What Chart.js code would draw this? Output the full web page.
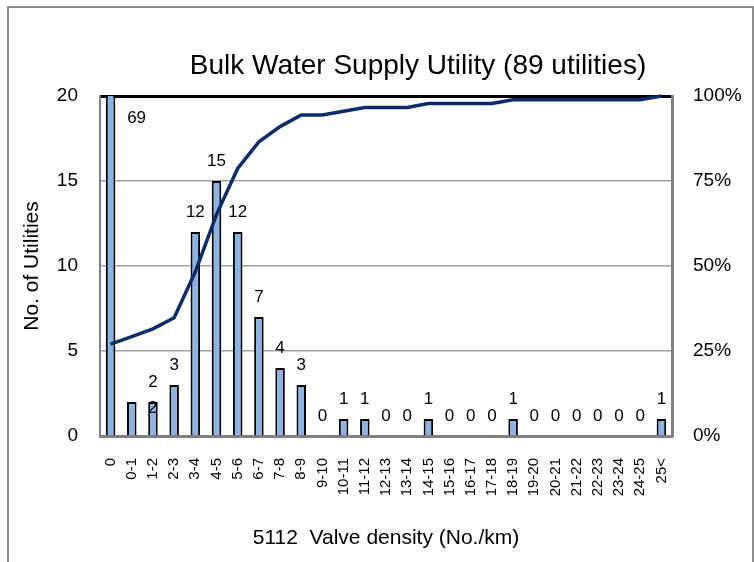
<!DOCTYPE html>
<html>
<head>
<meta charset="utf-8">
<script src="https://cdn.jsdelivr.net/npm/chart.js@4.4.0/dist/chart.umd.min.js"></script>
<style>
  html, body { margin: 0; padding: 0; background: #fff; }
  #wrap { position: relative; width: 754px; height: 562px; overflow: hidden; }
  #frame { position: absolute; left: 7px; top: 6px; width: 747px; height: 600px; border: 2px solid #8c8c8c; box-sizing: border-box; }
  canvas { position: absolute; left: 0; top: 0; }
</style>
</head>
<body>
<div id="wrap">
  <div id="frame"></div>
  <canvas id="chart" width="754" height="562"></canvas>
</div>
<script>
// categories (valve density bins) and values
const categories = ['0', '0-1', '1-2', '2-3', '3-4', '4-5', '5-6', '6-7', '7-8', '8-9',
  '9-10', '10-11', '11-12', '12-13', '13-14', '14-15', '15-16', '16-17', '17-18', '18-19',
  '19-20', '20-21', '21-22', '22-23', '23-24', '24-25', '25<'];
const counts = [69, 2, 2, 3, 12, 15, 12, 7, 4, 3, 0, 1, 1, 0, 0, 1, 0, 0, 0, 1, 0, 0, 0, 0, 0, 0, 1];
const cumulativePct = [27.0, 29.2, 31.5, 34.8, 48.3, 65.2, 78.7, 86.5, 91.0, 94.4, 94.4, 95.5, 96.6,
  96.6, 96.6, 97.8, 97.8, 97.8, 97.8, 98.9, 98.9, 98.9, 98.9, 98.9, 98.9, 98.9, 100];
const countTicks = [0, 5, 10, 15, 20];
const pctTicks = [0, 25, 50, 75, 100];

const FONT = 'Arial, "Liberation Sans", sans-serif';

// labels that were moved by hand in the original
const labelShift = { 0: [26, 42], 1: [21, 26] };

const barLabels = {
  id: 'barLabels',
  afterDatasetsDraw(chart) {
    const { ctx, chartArea } = chart;
    const meta = chart.getDatasetMeta(0);
    ctx.save();
    ctx.font = '17px ' + FONT;
    ctx.fillStyle = '#000';
    ctx.textAlign = 'center';
    ctx.textBaseline = 'middle';
    meta.data.forEach((bar, i) => {
      const top = Math.max(bar.y, chartArea.top);
      const [dx, dy] = labelShift[i] || [0, 0];
      ctx.fillText(String(counts[i]), bar.x + dx, top - 20 + dy);
    });
    ctx.restore();
  }
};

const chartTitle = {
  id: 'chartTitle',
  afterDraw(chart) {
    const { ctx } = chart;
    ctx.save();
    ctx.font = '28px ' + FONT;
    ctx.fillStyle = '#000';
    ctx.textAlign = 'center';
    ctx.textBaseline = 'middle';
    ctx.fillText('Bulk Water Supply Utility (89 utilities)', 418, 66);
    ctx.restore();
  }
};

new Chart(document.getElementById('chart').getContext('2d'), {
  data: {
    labels: categories,
    datasets: [
      {
        type: 'bar',
        label: 'No. of Utilities',
        data: counts,
        yAxisID: 'y',
        backgroundColor: '#8db3e2',
        borderColor: '#000',
        borderWidth: 2,
        barPercentage: 0.45,
        categoryPercentage: 1,
        order: 2
      },
      {
        type: 'line',
        label: 'Cumulative',
        data: cumulativePct,
        yAxisID: 'y1',
        borderColor: '#0b2b6b',
        borderWidth: 3.5,
        pointRadius: 0,
        tension: 0,
        clip: 4,
        order: 1
      }
    ]
  },
  options: {
    responsive: false,
    animation: false,
    devicePixelRatio: 1,
    layout: { padding: { top: 96, left: 0, right: 0, bottom: 0 } },
    plugins: {
      legend: { display: false },
      tooltip: { enabled: false },
      title: { display: false }
    },
    scales: {
      x: {
        grid: { display: false, drawTicks: false },
        border: { color: '#808080', width: 3 },
        ticks: {
          autoSkip: false, maxRotation: 90, minRotation: 90, padding: 22,
          color: '#000', font: { family: FONT, size: 15 }
        },
        title: {
          display: true, text: '5112  Valve density (No./km)', color: '#000',
          font: { family: FONT, size: 21 }, padding: { top: 0, bottom: 11 }
        },
        afterFit(s) { s.height = 126; }
      },
      y: {
        position: 'left',
        min: 0, max: 20,
        afterBuildTicks(s) { s.ticks = countTicks.map(v => ({ value: v })); },
        grid: {
          drawTicks: false,
          color: (c) => c.tick && c.tick.value === 20 ? '#000' : '#a0a0a0',
          lineWidth: (c) => c.tick && c.tick.value === 20 ? 3 : 1.5
        },
        border: { color: '#808080', width: 2 },
        ticks: { padding: 22, color: '#000', font: { family: FONT, size: 19 } },
        title: {
          display: true, text: 'No. of Utilities', color: '#000',
          font: { family: FONT, size: 21 }, padding: { top: 20, bottom: 0 }
        },
        afterFit(s) { s.width = 100; }
      },
      y1: {
        position: 'right',
        min: 0, max: 100,
        afterBuildTicks(s) { s.ticks = pctTicks.map(v => ({ value: v })); },
        grid: { display: false, drawTicks: false },
        border: { color: '#808080', width: 3 },
        ticks: {
          padding: 21, color: '#000', font: { family: FONT, size: 19 },
          callback: (v) => v + '%'
        },
        afterFit(s) { s.width = 82; }
      }
    }
  },
  plugins: [barLabels, chartTitle]
});
</script>
</body>
</html>
